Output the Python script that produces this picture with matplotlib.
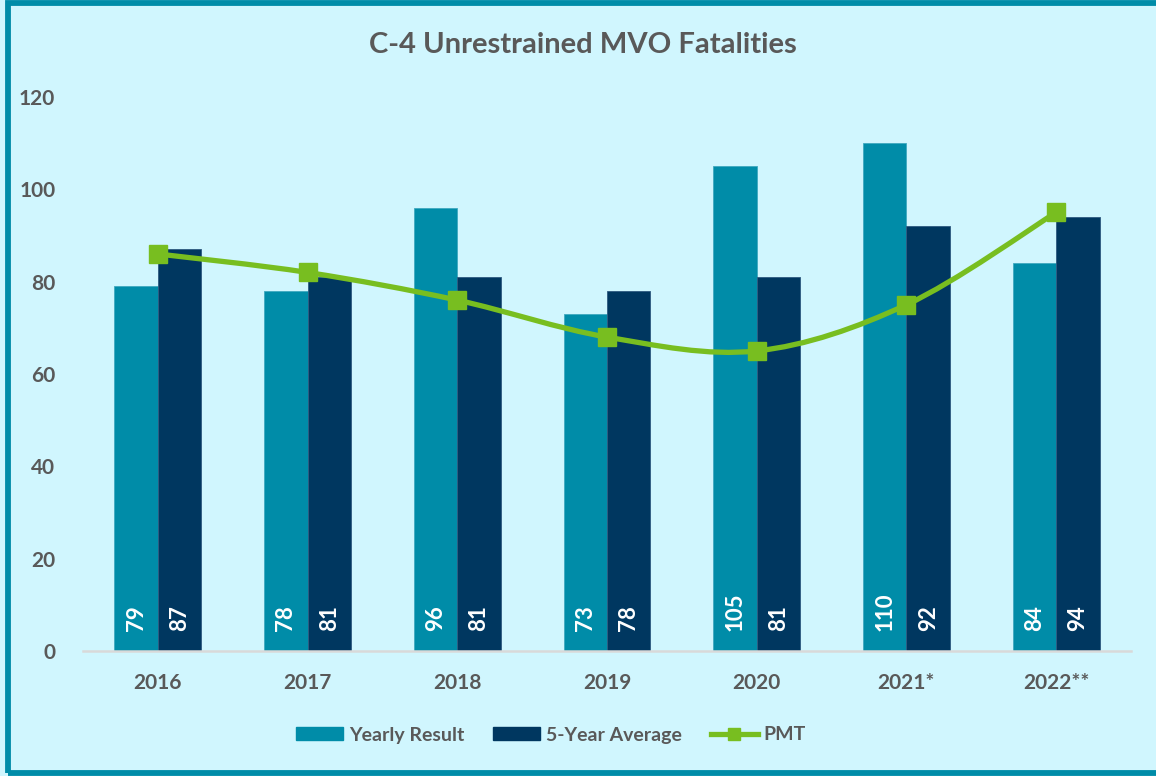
import numpy as np
import matplotlib
matplotlib.use("Agg")
import matplotlib.pyplot as plt
from matplotlib.path import Path
from matplotlib.patches import PathPatch, Rectangle, Patch
from matplotlib.lines import Line2D

years = ["2016", "2017", "2018", "2019", "2020", "2021*", "2022**"]
yearly_result = [79, 78, 96, 73, 105, 110, 84]
five_year_avg = [87, 81, 81, 78, 81, 92, 94]
pmt = [86, 82, 76, 68, 65, 75, 95]

TEAL = "#008CA8"
NAVY = "#003760"
GREEN = "#78BE20"
BG = "#D0F6FE"
GRAY = "#595959"

plt.rcParams["font.family"] = ["Lato", "DejaVu Sans"]


def smooth_path(xs, ys):
    # excel style smoothed line: bezier segments with catmull-rom control points
    pts = np.column_stack([xs, ys]).astype(float)
    ext = np.vstack([pts[0], pts, pts[-1]])
    verts = [tuple(pts[0])]
    codes = [Path.MOVETO]
    for i in range(len(pts) - 1):
        p0, p1, p2, p3 = ext[i], ext[i + 1], ext[i + 2], ext[i + 3]
        c1 = p1 + (p2 - p0) / 6.0
        c2 = p2 - (p3 - p1) / 6.0
        verts += [tuple(c1), tuple(c2), tuple(p2)]
        codes += [Path.CURVE4] * 3
    return Path(verts, codes)


def main():
    fig = plt.figure(figsize=(11.56, 7.76), dpi=100, facecolor=BG)
    ax = fig.add_axes([83 / 1156, 1 - 651 / 776, (1131 - 83) / 1156, (651 - 97) / 776])
    ax.set_facecolor(BG)

    x = np.arange(len(years))
    w = 0.29
    ax.bar(x - w / 2, yearly_result, w, color=TEAL, edgecolor="#3FA9C0", linewidth=0.6, zorder=2)
    ax.bar(x + w / 2, five_year_avg, w, color=NAVY, edgecolor="#2E5A80", linewidth=0.6, zorder=2)

    for i in range(len(years)):
        ax.text(x[i] - w / 2, 4.3, str(yearly_result[i]), rotation=90, ha="center", va="bottom",
                color="white", fontsize=16, fontweight="bold", zorder=4)
        ax.text(x[i] + w / 2, 4.3, str(five_year_avg[i]), rotation=90, ha="center", va="bottom",
                color="white", fontsize=16, fontweight="bold", zorder=4)

    ax.add_patch(PathPatch(smooth_path(x, pmt), fill=False, edgecolor=GREEN, linewidth=3.8,
                           capstyle="round", zorder=3))
    ax.plot(x, pmt, linestyle="none", marker="s", markersize=13, color=GREEN, zorder=5)

    ax.set_xlim(-0.5, len(years) - 0.5)
    ax.set_ylim(0, 120)
    ax.set_yticks(range(0, 121, 20))
    ax.set_xticks(x)
    ax.set_xticklabels(years)
    for s in ["top", "right", "left"]:
        ax.spines[s].set_visible(False)
    ax.spines["bottom"].set_color("#D9D9D9")
    ax.spines["bottom"].set_linewidth(1.8)
    ax.spines["bottom"].set_zorder(6)
    ax.tick_params(axis="both", length=0, labelsize=15, labelcolor=GRAY)
    ax.tick_params(axis="y", pad=20)
    ax.tick_params(axis="x", pad=16)
    for lab in ax.get_xticklabels() + ax.get_yticklabels():
        lab.set_fontweight("bold")

    fig.text(583 / 1156, 1 - 45 / 776, "C-4 Unrestrained MVO Fatalities", ha="center", va="center",
             fontsize=21, fontweight="bold", color=GRAY)

    handles = [Patch(color=TEAL), Patch(color=NAVY),
               Line2D([], [], color=GREEN, linewidth=3.8, marker="s", markersize=9)]
    leg = fig.legend(handles, ["Yearly Result", "5-Year Average", "PMT"], loc="center",
                     bbox_to_anchor=(551 / 1156, 1 - 735 / 776), ncol=3, frameon=False,
                     handlelength=2.4, handleheight=0.65, handletextpad=0.3, columnspacing=1.5,
                     prop={"size": 14, "weight": "bold"})
    for t in leg.get_texts():
        t.set_color(GRAY)

    fig.patches.append(Rectangle((7.5 / 1156, 3.5 / 776), 1.0, 770 / 776, transform=fig.transFigure,
                                 fill=False, edgecolor="#008CA8", linewidth=4.2, zorder=10))

    fig.savefig("out.png", dpi=100, facecolor=BG)


if __name__ == "__main__":
    main()
